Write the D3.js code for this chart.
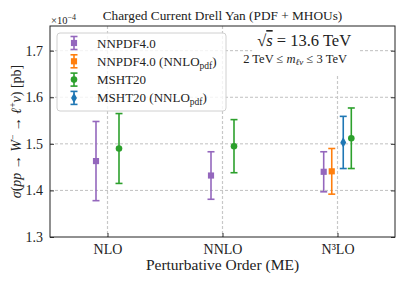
<!DOCTYPE html>
<html>
<head>
<meta charset="utf-8">
<script src="https://cdn.jsdelivr.net/npm/d3@7"></script>
<style>
  body { margin: 0; background: #fff; }
  text { font-family: "Liberation Serif", "DejaVu Serif", serif; fill: #222; }
</style>
</head>
<body>
<script>
const categories = ['NLO', 'NNLO', 'N³LO'];
const seriesNames = ['NNPDF4.0', 'NNPDF4.0 (NNLO_pdf)', 'MSHT20', 'MSHT20 (NNLO_pdf)'];
const nnpdf = [1.463, 1.432, 1.440];
const nnpdfErr = [0.085, 0.051, 0.043];
const nnpdfNnlo = [null, null, 1.441];
const nnpdfNnloErr = [null, null, 0.049];
const msht = [1.490, 1.495, 1.512];
const mshtErr = [0.075, 0.057, 0.065];
const mshtNnlo = [null, null, 1.503];
const mshtNnloErr = [null, null, 0.056];
const yTicks = [1.3, 1.4, 1.5, 1.6, 1.7];

const colors = ['#9467bd', '#ff7f0e', '#2ca02c', '#1f77b4'];
const symbols = [d3.symbolSquare, d3.symbolSquare, d3.symbolCircle, d3.symbolDiamond];
const symSize = [38, 38, 34, 30];
// horizontal dodge depending on how many series sit on a category
const dodge = { 2: { 0: -0.1, 2: 0.1 }, 4: { 0: -0.12, 1: -0.05, 3: 0.05, 2: 0.12 } };

const values = [nnpdf, nnpdfNnlo, msht, mshtNnlo];
const errors = [nnpdfErr, nnpdfNnloErr, mshtErr, mshtNnloErr];

const W = 407, H = 285;
const margin = { top: 26, right: 12, bottom: 48, left: 50 };
const width = W - margin.left - margin.right;
const height = H - margin.top - margin.bottom;

const x = d3.scaleLinear().domain([-0.5, 2.5]).range([0, width]);
const y = d3.scaleLinear().domain([1.3, 1.753]).range([height, 0]);

const svg = d3.select('body').append('svg')
  .attr('width', W).attr('height', H);
const g = svg.append('g')
  .attr('transform', `translate(${margin.left},${margin.top})`);

// grid
g.append('g').selectAll('line').data(yTicks.slice(1)).join('line')
  .attr('x1', 0).attr('x2', width)
  .attr('y1', d => y(d)).attr('y2', d => y(d))
  .attr('stroke', '#b0b0b0').attr('stroke-width', 0.8).attr('stroke-dasharray', '3,2');
g.append('g').selectAll('line').data(categories).join('line')
  .attr('x1', (d, i) => x(i)).attr('x2', (d, i) => x(i))
  .attr('y1', 0).attr('y2', height)
  .attr('stroke', '#c8c8c8').attr('stroke-width', 1.2).attr('stroke-dasharray', '3,2');

// text box in the upper right
const info = g.append('g').attr('transform', `translate(${x(1.71)},0)`);
info.append('rect').attr('x', -52).attr('y', 0).attr('width', 106).attr('height', 50).attr('fill', '#fff');
const t1 = info.append('text').attr('y', 20).attr('text-anchor', 'middle').attr('font-size', 16.5);
t1.append('tspan').text('√');
t1.append('tspan').attr('font-style', 'italic').attr('text-decoration', 'overline').text('s');
t1.append('tspan').text(' = 13.6 TeV');
const t2 = info.append('text').attr('x', -9).attr('y', 37).attr('text-anchor', 'middle').attr('font-size', 12.5);
t2.append('tspan').text('2 TeV ≤ ');
t2.append('tspan').attr('font-style', 'italic').text('m');
t2.append('tspan').attr('font-style', 'italic').attr('font-size', 9).attr('dy', 2).text('ℓν');
t2.append('tspan').attr('dy', -2).text(' ≤ 3 TeV');

// error bars
function drawBar(sel, cx, cy, top, bot, i) {
  sel.append('line').attr('x1', cx).attr('x2', cx).attr('y1', top).attr('y2', bot)
    .attr('stroke', colors[i]).attr('stroke-width', 1.6);
  [top, bot].forEach(v => sel.append('line')
    .attr('x1', cx - 3.5).attr('x2', cx + 3.5).attr('y1', v).attr('y2', v)
    .attr('stroke', colors[i]).attr('stroke-width', 1.6));
  sel.append('path').attr('d', d3.symbol(symbols[i], symSize[i])())
    .attr('transform', `translate(${cx},${cy})`).attr('fill', colors[i]);
}

const marks = g.append('g');
categories.forEach((c, j) => {
  const present = values.map((v, i) => v[j] != null ? i : -1).filter(i => i >= 0);
  present.forEach(i => {
    const v = values[i][j], e = errors[i][j];
    drawBar(marks, x(j + dodge[present.length][i]), y(v), y(v + e), y(v - e), i);
  });
});

// axes
const yAxis = g.append('g').call(d3.axisLeft(y).tickValues(yTicks).tickFormat(d3.format('.1f')).tickSizeInner(-4).tickSizeOuter(0).tickPadding(7));
const yAxisR = g.append('g').attr('transform', `translate(${width},0)`)
  .call(d3.axisRight(y).tickValues(yTicks).tickFormat('').tickSizeInner(-4).tickSizeOuter(0));
const xAxis = g.append('g').attr('transform', `translate(0,${height})`)
  .call(d3.axisBottom(x).tickValues([0, 1, 2]).tickFormat(i => categories[i]).tickSizeInner(-4).tickSizeOuter(0).tickPadding(7));
[yAxis, yAxisR, xAxis].forEach(a => {
  a.select('.domain').remove();
  a.selectAll('line').attr('stroke', '#333').attr('stroke-width', 1);
  a.selectAll('text').attr('font-size', 14).attr('font-family', '"Liberation Serif", serif').attr('fill', '#222');
});
g.append('rect').attr('width', width).attr('height', height)
  .attr('fill', 'none').attr('stroke', '#222').attr('stroke-width', 1);

// legend
const leg = g.append('g').attr('transform', 'translate(7,7)');
leg.append('rect').attr('width', 169).attr('height', 78).attr('rx', 3)
  .attr('fill', 'rgba(255,255,255,0.8)').attr('stroke', '#d0d0d0').attr('stroke-width', 1);
seriesNames.forEach((name, i) => {
  const row = leg.append('g').attr('transform', `translate(17,${10 + i * 18.3})`);
  drawBar(row, 0, 0, -6.5, 6.5, i);
  const t = row.append('text').attr('x', 23).attr('y', 4.5).attr('font-size', 13);
  const parts = name.split('_');
  if (parts.length === 1) t.text(name);
  else {
    t.append('tspan').text(parts[0]);
    t.append('tspan').attr('font-size', 9.5).attr('dy', 3).text(parts[1].replace(')', ''));
    t.append('tspan').attr('dy', -3).text(')');
  }
});

// labels
svg.append('text').attr('x', margin.left + width / 2).attr('y', 20)
  .attr('text-anchor', 'middle').attr('font-size', 13.3).text('Charged Current Drell Yan (PDF + MHOUs)');
const off = svg.append('text').attr('x', 51).attr('y', 24).attr('font-size', 10.5);
off.append('tspan').text('×10');
off.append('tspan').attr('font-size', 8).attr('dy', -4).text('−4');

svg.append('text').attr('x', margin.left + width / 2).attr('y', 270)
  .attr('text-anchor', 'middle').attr('font-size', 15.5).text('Perturbative Order (ME)');

const yl = svg.append('text').attr('transform', `translate(21,${margin.top + height / 2}) rotate(-90)`)
  .attr('text-anchor', 'middle').attr('font-size', 14);
yl.append('tspan').attr('font-style', 'italic').text('σ');
yl.append('tspan').text('(');
yl.append('tspan').attr('font-style', 'italic').text('pp');
yl.append('tspan').text(' → ');
yl.append('tspan').attr('font-style', 'italic').text('W');
yl.append('tspan').attr('font-size', 9.5).attr('dy', -5).text('−');
yl.append('tspan').attr('dy', 5).text(' → ');
yl.append('tspan').attr('font-style', 'italic').text('ℓ');
yl.append('tspan').attr('font-size', 9.5).attr('dy', -5).text('+');
yl.append('tspan').attr('dy', 5).attr('font-style', 'italic').text('ν');
yl.append('tspan').text(') [pb]');
</script>
</body>
</html>
